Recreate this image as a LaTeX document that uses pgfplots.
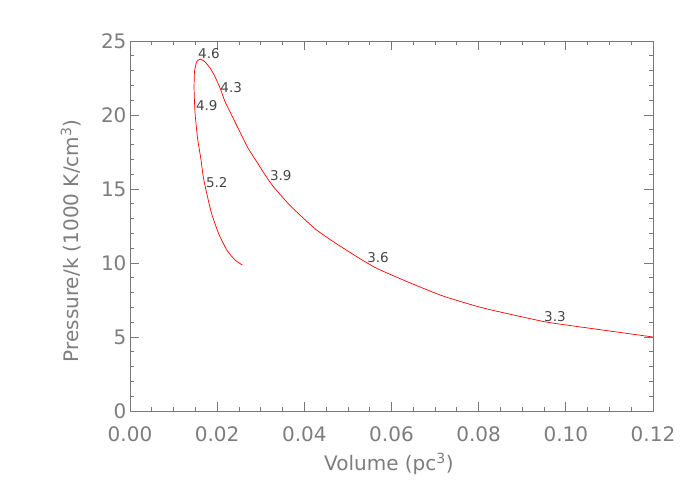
\documentclass[border=0pt]{standalone}
\usepackage{pgfplots}
\pgfplotsset{compat=1.18}
\usepackage{fontspec}
\setmainfont{DejaVu Sans}
\definecolor{axgray}{RGB}{120,120,120}
\definecolor{lblgray}{RGB}{125,125,125}
\definecolor{txtgray}{RGB}{70,70,70}
\begin{document}
\begin{tikzpicture}
\path[use as bounding box] (-130pt,-83pt) rectangle (562pt,411pt);
\begin{axis}[
    at={(0,0)}, anchor=south west,
    scale only axis, width=523pt, height=370pt,
    xmin=0, xmax=0.12, ymin=0, ymax=25,
    xtick={0,0.02,0.04,0.06,0.08,0.10,0.12},
    ytick={0,5,10,15,20,25},
    minor x tick num=3, minor y tick num=4,
    tick pos=both, xticklabel pos=lower, yticklabel pos=left,
    major tick length=9pt, minor tick length=4pt,
    tick style={axgray, line width=0.8pt},
    axis line style={axgray, line width=0.8pt},
    every tick label/.append style={font=\fontsize{20}{24}\selectfont, text=lblgray},
    /pgf/number format/assume math mode=true,
    scaled x ticks=false,
    xticklabel style={/pgf/number format/fixed, /pgf/number format/fixed zerofill,
        /pgf/number format/precision=2, yshift=-12pt},
    xlabel={Volume (pc\textsuperscript{3})},
    ylabel={Pressure/k (1000 K/cm\textsuperscript{3})},
    label style={font=\fontsize{20}{24}\selectfont, text=lblgray},
    xlabel style={at={(axis description cs:0.495,-0.143)}, anchor=center},
    ylabel style={at={(axis description cs:-0.113,0.46)}, anchor=center},
]
% pressure-volume track, from right end to left end
\addplot[red, line width=0.7pt, smooth, tension=0.3] coordinates {
    (0.1200, 5.00) (0.0994, 5.84) (0.0943, 6.08) (0.0810, 6.96)
    (0.0718, 7.77) (0.0639, 8.70) (0.0566, 9.64) (0.0520, 10.43)
    (0.0466, 11.45) (0.0428, 12.23) (0.0398, 13.02) (0.0365, 13.95)
    (0.0329, 15.16) (0.0310, 15.95) (0.0293, 16.74)
    (0.0271, 17.75) (0.0252, 18.87) (0.0233, 20.00) (0.0218, 20.90)
    (0.0207, 21.80) (0.0195, 22.59) (0.0184, 23.16) (0.0172, 23.60)
    (0.0161, 23.78) (0.0153, 23.60) (0.0148, 22.93) (0.0147, 21.80)
    (0.0149, 20.22) (0.0155, 18.43) (0.0163, 16.96) (0.0168, 15.83)
    (0.0176, 14.71) (0.0187, 13.36) (0.0203, 12.01) (0.0222, 10.88)
    (0.0241, 10.20) (0.0258, 9.86)
};
% time labels along the track
\begin{scope}[every node/.style={anchor=base west, inner sep=0pt,
    font=\fontsize{13.5}{16}\selectfont, text=txtgray}]
\node at (axis cs:0.0950,6.08) {3.3};
\node at (axis cs:0.0544,10.0) {3.6};
\node at (axis cs:0.0321,15.6) {3.9};
\node at (axis cs:0.0207,21.55) {4.3};
\node at (axis cs:0.0156,23.8) {4.6};
\node at (axis cs:0.0151,20.3) {4.9};
\node at (axis cs:0.0174,15.1) {5.2};
\end{scope}
\end{axis}
\end{tikzpicture}
\end{document}
